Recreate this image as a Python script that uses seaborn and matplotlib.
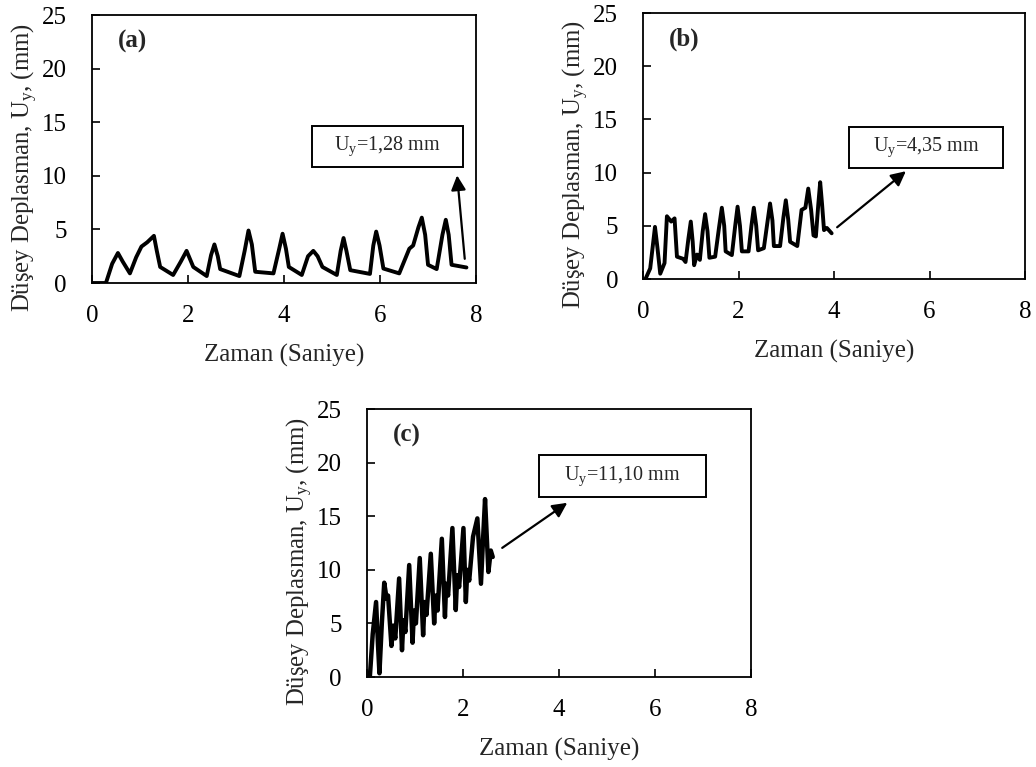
import numpy as np
import pandas as pd
import matplotlib
matplotlib.use('Agg')
import matplotlib.pyplot as plt
import seaborn as sns
from matplotlib.patches import Rectangle

# Veriler
t_a = [0.0, 0.29, 0.42, 0.54, 0.64, 0.79, 0.92, 1.03, 1.15, 1.29, 1.35, 1.42, 1.69,
       1.85, 1.97, 2.11, 2.39, 2.48, 2.55, 2.62, 2.67, 3.07, 3.18, 3.26, 3.33, 3.40,
       3.78, 3.90, 3.97, 4.04, 4.10, 4.37, 4.50, 4.61, 4.70, 4.80, 5.10, 5.18, 5.24,
       5.30, 5.38, 5.79, 5.86, 5.92, 5.99, 6.07, 6.40, 6.61, 6.69, 6.80, 6.87, 6.94,
       7.00, 7.18, 7.30, 7.37, 7.43, 7.49, 7.80]
u_a = [0.0, 0.0, 1.8, 2.8, 2.0, 0.9, 2.4, 3.4, 3.8, 4.4, 3.0, 1.5, 0.75,
       2.0, 3.0, 1.5, 0.65, 2.6, 3.6, 2.5, 1.3, 0.65, 3.0, 4.9, 3.6, 1.05,
       0.9, 3.2, 4.6, 3.2, 1.5, 0.75, 2.5, 3.0, 2.5, 1.5, 0.75, 3.0, 4.2,
       3.0, 1.2, 0.85, 3.5, 4.8, 3.5, 1.35, 0.9, 3.2, 3.5, 5.2, 6.1, 4.5,
       1.7, 1.3, 4.5, 5.9, 4.5, 1.7, 1.45]

t_b = [0.05, 0.15, 0.25, 0.30, 0.36, 0.45, 0.50, 0.59, 0.66, 0.71, 0.84, 0.89,
       0.95, 1.00, 1.04, 1.07, 1.13, 1.19, 1.25, 1.30, 1.35, 1.39, 1.51, 1.59,
       1.65, 1.70, 1.73, 1.86, 1.93, 1.98, 2.03, 2.07, 2.21, 2.27, 2.32, 2.37,
       2.41, 2.53, 2.61, 2.66, 2.71, 2.74, 2.87, 2.94, 2.99, 3.04, 3.08, 3.23,
       3.32, 3.40, 3.46, 3.52, 3.57, 3.62, 3.67, 3.71, 3.75, 3.79, 3.85, 3.95]
u_b = [0.0, 1.0, 4.9, 3.0, 0.5, 1.5, 5.9, 5.4, 5.7, 2.1, 1.9, 1.6,
       3.8, 5.4, 3.5, 1.3, 2.3, 1.8, 4.5, 6.1, 4.5, 2.0, 2.1, 4.8,
       6.7, 5.0, 2.6, 2.25, 5.0, 6.8, 5.0, 2.6, 2.6, 5.0, 6.7, 5.0,
       2.7, 2.9, 5.5, 7.1, 5.5, 3.1, 3.1, 5.8, 7.4, 5.6, 3.5, 3.1,
       6.5, 6.7, 8.5, 6.5, 4.1, 4.0, 7.0, 9.1, 7.0, 4.6, 4.8, 4.3]

t_c = [0.06, 0.12, 0.19, 0.23, 0.26, 0.31, 0.36, 0.41, 0.44, 0.51, 0.55, 0.59,
       0.67, 0.73, 0.76, 0.80, 0.88, 0.95, 0.98, 1.02, 1.10, 1.17, 1.20, 1.24,
       1.33, 1.40, 1.43, 1.47, 1.56, 1.625, 1.65, 1.69, 1.78, 1.85, 1.88, 1.92,
       2.01, 2.06, 2.09, 2.13, 2.21, 2.30, 2.375, 2.42, 2.46, 2.53, 2.58, 2.62]
u_c = [0.0, 4.0, 7.0, 3.0, 0.35, 5.0, 8.8, 7.3, 7.6, 2.9, 4.8, 3.6,
       9.2, 2.5, 5.3, 4.2, 10.45, 3.2, 6.2, 5.0, 11.1, 3.9, 7.0, 5.8,
       11.5, 5.0, 7.6, 6.2, 12.9, 5.6, 8.7, 7.6, 13.9, 6.25, 9.5, 8.4,
       13.9, 7.0, 10.0, 9.0, 13.1, 14.8, 8.7, 13.0, 16.6, 9.8, 11.8, 11.2]

etiketler = ['(a)', '(b)', '(c)']
maks_degerler = ['1,28', '4,35', '11,10']
x_ticks = [0, 2, 4, 6, 8]
y_ticks = [0, 5, 10, 15, 20, 25]

sns.set_theme(style='ticks')
plt.rcParams['font.family'] = ['Liberation Serif', 'DejaVu Serif']
plt.rcParams['mathtext.default'] = 'regular'
plt.rcParams['font.size'] = 18

fig = plt.figure(figsize=(10.36, 7.67), dpi=100)
konumlar = [
    [0.0888, 0.6310, 0.3707, 0.3494],
    [0.6207, 0.6362, 0.3687, 0.3468],
    [0.3542, 0.1173, 0.3707, 0.3494],
]
seriler = [(t_a, u_a), (t_b, u_b), (t_c, u_c)]
kalinlik = [2.8, 2.8, 3.2]

# kutu (eksen oranı) ve ok (veri koordinatı) yerleşimi
kutular = [(0.572, 0.434, 0.395, 0.152), (0.540, 0.416, 0.402, 0.157), (0.449, 0.673, 0.434, 0.155)]
oklar = [((7.77, 2.0), (7.6, 10.3)), ((4.02, 4.7), (5.55, 10.3)), ((2.77, 11.9), (4.22, 16.4))]

for i in range(3):
    ax = fig.add_axes(konumlar[i])
    df = pd.DataFrame({'Zaman': seriler[i][0], 'Uy': seriler[i][1]})
    sns.lineplot(data=df, x='Zaman', y='Uy', ax=ax, color='black', lw=kalinlik[i], sort=False)
    ax.set_xlim(0, 8)
    ax.set_ylim(0, 25)
    ax.set_xticks(x_ticks)
    ax.set_yticks(y_ticks)
    ax.tick_params(direction='in', length=6, width=1.2, colors='black', labelsize=18)
    ax.tick_params(axis='y', pad=18)
    ax.tick_params(axis='x', pad=16)
    for s in ax.spines.values():
        s.set_color('black')
        s.set_linewidth(1.3)
    ax.set_xlabel('Zaman (Saniye)', fontsize=18, labelpad=12)
    ax.set_ylabel('Düşey Deplasman, U$_{y}$, (mm)', fontsize=17.8)
    ax.yaxis.set_label_coords(-0.135, 0.43)
    ax.text(0.068, 0.90, etiketler[i], transform=ax.transAxes, fontsize=18,
            fontweight='bold', va='center', ha='left')

    bx, by, bw, bh = kutular[i]
    ax.add_patch(Rectangle((bx, by), bw, bh, transform=ax.transAxes, fill=False,
                           edgecolor='black', lw=1.4))
    ax.text(bx + bw / 2, by + bh / 2, 'U$_{y}$=' + maks_degerler[i] + ' mm',
            transform=ax.transAxes, fontsize=14.5, ha='center', va='center')
    (x0, y0), (x1, y1) = oklar[i]
    ax.annotate('', xy=(x1, y1), xytext=(x0, y0),
                arrowprops=dict(arrowstyle='-|>', color='black', lw=1.6,
                                mutation_scale=22))

plt.savefig('out.png', dpi=100, facecolor='white')
plt.close()
